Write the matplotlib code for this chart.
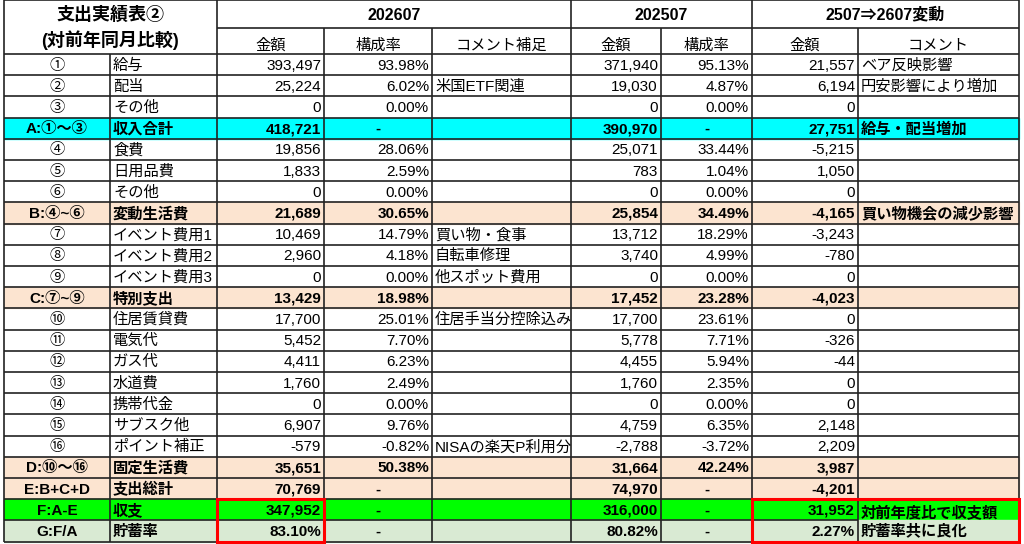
import matplotlib.pyplot as plt
from matplotlib.patches import Rectangle

plt.rcParams['font.family'] = ['Liberation Sans', 'Noto Sans CJK JP', 'DejaVu Sans']

codes = ["①", "②", "③", "A:①～③", "④", "⑤", "⑥", "B:④~⑥", "⑦", "⑧", "⑨", "C:⑦~⑨",
         "⑩", "⑪", "⑫", "⑬", "⑭", "⑮", "⑯", "D:⑩～⑯", "E:B+C+D", "F:A-E", "G:F/A"]
items = ["給与", "配当", "その他", "収入合計", "食費", "日用品費", "その他", "変動生活費",
         "イベント費用1", "イベント費用2", "イベント費用3", "特別支出", "住居賃貸費", "電気代",
         "ガス代", "水道費", "携帯代金", "サブスク他", "ポイント補正", "固定生活費", "支出総計",
         "収支", "貯蓄率"]
amt_2607 = ["393,497", "25,224", "0", "418,721", "19,856", "1,833", "0", "21,689", "10,469",
            "2,960", "0", "13,429", "17,700", "5,452", "4,411", "1,760", "0", "6,907", "-579",
            "35,651", "70,769", "347,952", "83.10%"]
rate_2607 = ["93.98%", "6.02%", "0.00%", "-", "28.06%", "2.59%", "0.00%", "30.65%", "14.79%",
             "4.18%", "0.00%", "18.98%", "25.01%", "7.70%", "6.23%", "2.49%", "0.00%", "9.76%",
             "-0.82%", "50.38%", "-", "-", "-"]
note_2607 = ["", "米国ETF関連", "", "", "", "", "", "", "買い物・食事", "自転車修理", "他スポット費用",
             "", "住居手当分控除込み", "", "", "", "", "", "NISAの楽天P利用分", "", "", "", ""]
amt_2507 = ["371,940", "19,030", "0", "390,970", "25,071", "783", "0", "25,854", "13,712",
            "3,740", "0", "17,452", "17,700", "5,778", "4,455", "1,760", "0", "4,759", "-2,788",
            "31,664", "74,970", "316,000", "80.82%"]
rate_2507 = ["95.13%", "4.87%", "0.00%", "-", "33.44%", "1.04%", "0.00%", "34.49%", "18.29%",
             "4.99%", "0.00%", "23.28%", "23.61%", "7.71%", "5.94%", "2.35%", "0.00%", "6.35%",
             "-3.72%", "42.24%", "-", "-", "-"]
diff = ["21,557", "6,194", "0", "27,751", "-5,215", "1,050", "0", "-4,165", "-3,243", "-780",
        "0", "-4,023", "0", "-326", "-44", "0", "0", "2,148", "2,209", "3,987", "-4,201",
        "31,952", "2.27%"]
diff_note = ["ベア反映影響", "円安影響により増加", "", "給与・配当増加", "", "", "", "買い物機会の減少影響",
             "", "", "", "", "", "", "", "", "", "", "", "", "", "対前年度比で収支額\n貯蓄率共に良化", None]

row_colors = {3: "#00FFFF", 7: "#FCE4D0", 11: "#FCE4D0", 19: "#FCE4D0", 20: "#FCE4D0",
              21: "#00FF00", 22: "#D9EAD3"}
bold_rows = {3, 7, 11, 19, 20, 21, 22}

xs = [4, 110, 217, 324, 432, 571, 661, 752, 858, 1019]
y0, rh = 54, 21.2

fig = plt.figure(figsize=(10.24, 5.44), dpi=100)
ax = fig.add_axes([0, 0, 1, 1])
ax.set_xlim(0, 1024)
ax.set_ylim(544, 0)
ax.axis('off')

lw = 1.2
def line(x1, y1, x2, y2, c="#222222", w=lw):
    ax.plot([x1, x2], [y1, y2], color=c, lw=w, solid_capstyle='butt')

fs = 11
# header
ax.text((xs[0] + xs[2]) / 2, 15, "支出実績表②", ha='center', va='center', fontsize=13, fontweight='bold')
ax.text((xs[0] + xs[2]) / 2, 40, "(対前年同月比較)", ha='center', va='center', fontsize=13, fontweight='bold')
for a, b, t in [(2, 5, "202607"), (5, 7, "202507"), (7, 9, "2507⇒2607変動")]:
    ax.text((xs[a] + xs[b]) / 2, 15, t, ha='center', va='center', fontsize=11.5, fontweight='bold')
for i, t in enumerate(["金額", "構成率", "コメント補足", "金額", "構成率", "金額", "コメント"]):
    ax.text((xs[i + 2] + xs[i + 3]) / 2, 46, t, ha='center', va='center', fontsize=fs)

cols = [amt_2607, rate_2607, note_2607, amt_2507, rate_2507, diff, diff_note]
for r in range(len(codes)):
    top = y0 + r * rh
    yc = top + rh / 2 + 1
    col = row_colors.get(r)
    if col:
        ax.add_patch(Rectangle((xs[0], top), xs[-1] - xs[0], rh, color=col, zorder=0))
    wt = 'bold' if r in bold_rows else 'normal'
    ax.text((xs[0] + xs[1]) / 2, yc, codes[r], ha='center', va='center', fontsize=fs, fontweight=wt)
    ax.text(xs[1] + 3, yc, items[r], ha='left', va='center', fontsize=fs, fontweight=wt)
    for c, vals in enumerate(cols):
        v = vals[r]
        if not v:
            continue
        xl, xr = xs[c + 2], xs[c + 3]
        if c in (2, 6):
            yy = yc + (rh / 2 if "\n" in v else 0)
            ax.text(xl + 3, yy, v, ha='left', va='center', fontsize=fs, fontweight=wt, linespacing=1.3)
        elif v == "-":
            ax.text((xl + xr) / 2, yc, v, ha='center', va='center', fontsize=fs, fontweight=wt)
        else:
            ax.text(xr - 3, yc, v, ha='right', va='center', fontsize=fs, fontweight=wt)

bottom = y0 + len(codes) * rh
# grid
line(xs[0], 0, xs[-1], 0)
line(xs[2], 28, xs[-1], 28)
for r in range(len(codes) + 1):
    y = y0 + r * rh
    if r == len(codes) - 1:
        line(xs[0], y, xs[8], y)
    else:
        line(xs[0], y, xs[-1], y)
for i, x in enumerate(xs):
    if i == 1:
        line(x, y0, x, bottom)
    elif i in (3, 4, 6, 8):
        line(x, 28, x, bottom)
    else:
        line(x, 0, x, bottom)

# red highlight boxes
for a, b in [(2, 3), (7, 9)]:
    ax.add_patch(Rectangle((xs[a], y0 + 21 * rh), xs[b] - xs[a], 2 * rh, fill=False,
                           edgecolor="#FF0000", lw=2.2, zorder=5))

fig.savefig("out.png", dpi=100)
